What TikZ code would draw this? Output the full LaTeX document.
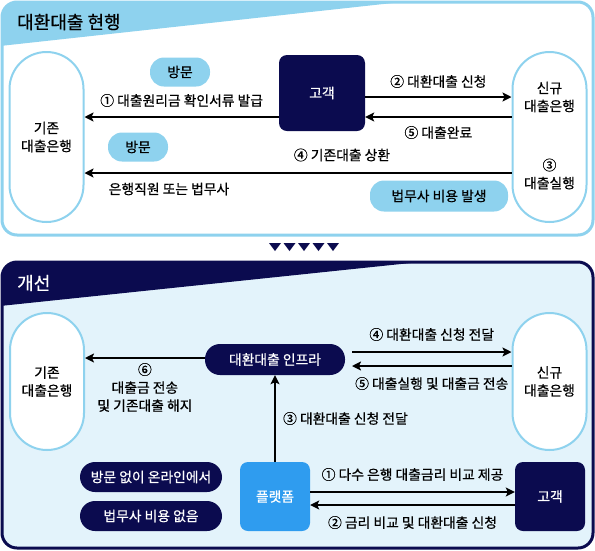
\documentclass[tikz,border=0pt]{standalone}
\usepackage{fontspec}
\setmainfont{Noto Sans CJK KR}[FakeBold=0.6]
\usetikzlibrary{positioning,
        shapes,
        arrows.meta}
\usepackage{xcolor}
\definecolor{skyb}{HTML}{8ED2EE}
\definecolor{navyb}{HTML}{0B0B4F}
\definecolor{paleb}{HTML}{E3F3FB}
\definecolor{platb}{HTML}{2F9CEF}

\begin{document}
\begin{tikzpicture}[x=1pt,y=-1pt,
        every node/.style={font=\fontsize{13.8}{18}\selectfont,align=center,inner sep=0pt},
        bank/.style={draw=skyb,line width=2pt,fill=white,minimum width=74pt,rounded corners=37pt},
        skypill/.style={fill=skyb,rounded corners=14pt,minimum height=29pt},
        navypill/.style={fill=navyb,text=white,rounded corners=15pt,minimum height=30pt},
        navybox/.style={fill=navyb,text=white,rounded corners=8pt},
        flow/.style={line width=2.2pt,-{Stealth[length=9pt,width=9pt,inset=2pt]}}]
        \useasboundingbox (0,0) rectangle (595,550);

        % current process
        \begin{scope}
                \clip[rounded corners=15] (2,2) rectangle (593,235);
                \fill[white] (0,0) rectangle (595,240);
                \fill[skyb] (0,0) -- (420,0) -- (0,46) -- cycle;
        \end{scope}
        \draw[skyb,line width=3pt,rounded corners=15] (2,2) rectangle (593,235);
        \node [font=\fontsize{18}{20}\selectfont,anchor=west] (t1) at (17,22) {대환대출 현행};

        \node [bank,minimum height=170pt] (old1) at (46.5,137) {기존\\대출은행};
        \node [bank,minimum height=170pt] (new1) at (549.5,137) {};
        \node (new1a) at (549.5,97) {신규\\대출은행};
        \node (new1b) at (549.5,174) {③\\대출실행};
        \node [navybox,minimum width=86pt,minimum height=76pt] (cust1) at (322,93) {고객};
        \node [skypill,minimum width=60pt] (v1) at (180,72) {방문};
        \node [skypill,minimum width=60pt] (v2) at (138,147) {방문};
        \node [skypill,minimum width=138pt,minimum height=31pt] (fee1) at (439,196) {법무사 비용 발생};

        \draw [flow] (cust1.west |- 0,117) -- (old1.east |- 0,117)
                node [midway,above=9pt] {① 대출원리금 확인서류 발급};
        \draw [flow] (cust1.east |- 0,97) -- (new1.west |- 0,97)
                node [midway,above=8pt] {② 대환대출 신청};
        \draw [flow] (new1.west |- 0,117) -- (cust1.east |- 0,117)
                node [midway,below=8pt] {⑤ 대출완료};
        \draw [flow] (new1.west |- 0,173) -- (old1.east |- 0,173);
        \node (rep1) at (342,155) {④ 기존대출 상환};
        \node (who1) at (169,189) {은행직원 또는 법무사};

        % arrows between panels
        \foreach \i in {0,...,4}
                \fill[navyb] (269+14.5*\i,243) -- (281+14.5*\i,243) -- (275+14.5*\i,251) -- cycle;

        % improved process
        \begin{scope}
                \clip[rounded corners=15] (2,262) rectangle (593,548);
                \fill[paleb] (0,255) rectangle (595,550);
                \fill[navyb] (0,255) -- (420,255) -- (420,262) -- (0,306) -- cycle;
        \end{scope}
        \draw[navyb,line width=3pt,rounded corners=15] (2,262) rectangle (593,548);
        \node [font=\fontsize{18}{20}\selectfont,text=white,anchor=west] (t2) at (17,283) {개선};

        \node [bank,minimum height=137pt] (old2) at (47,381.5) {기존\\대출은행};
        \node [bank,minimum height=137pt] (new2) at (549.5,381.5) {신규\\대출은행};
        \node [navypill,minimum width=140pt,minimum height=31pt] (infra) at (275,359.5) {대환대출 인프라};
        \node [navybox,fill=platb,minimum width=70pt,minimum height=69pt] (plat) at (275,496.5) {플랫폼};
        \node [navybox,minimum width=70pt,minimum height=69pt] (cust2) at (550,496.5) {고객};
        \node [navypill,minimum width=142pt] (np1) at (151,477) {방문 없이 온라인에서};
        \node [navypill,minimum width=142pt] (np2) at (151,516) {법무사 비용 없음};

        \draw [flow] (infra.west |- 0,358) -- (old2.east |- 0,358)
                node [midway,below=4pt] {⑥\\대출금 전송\\및 기존대출 해지};
        \draw [flow] (352,352) -- (new2.west |- 0,352)
                node [midway,above=10pt] {④ 대환대출 신청 전달};
        \draw [flow] (new2.west |- 0,366) -- (352,366)
                node [midway,below=10pt] {⑤ 대출실행 및 대출금 전송};
        \draw [flow] (plat.north) -- (infra.south)
                node [midway,right=7pt] {③ 대환대출 신청 전달};
        \draw [flow] (plat.east |- 0,492) -- (cust2.west |- 0,492)
                node [midway,above=10pt] {① 다수 은행 대출금리 비교 제공};
        \draw [flow] (cust2.west |- 0,505) -- (plat.east |- 0,505)
                node [midway,below=10pt] {② 금리 비교 및 대환대출 신청};
\end{tikzpicture}
\end{document}
